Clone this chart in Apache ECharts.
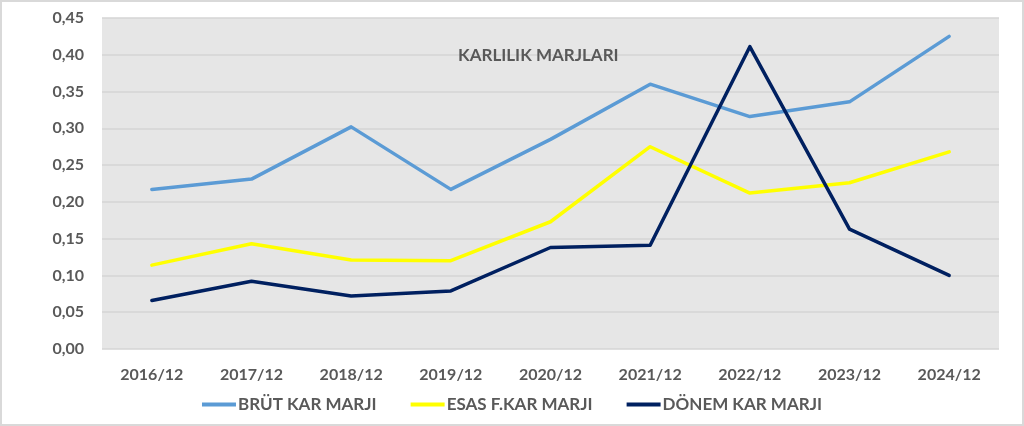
<!DOCTYPE html>
<html><head><meta charset="utf-8">
<script src="https://cdn.jsdelivr.net/npm/echarts@6/dist/echarts.min.js"></script>
<style>
html,body{margin:0;padding:0;background:#fff;}
#c{width:1024px;height:426px;box-sizing:border-box;border:2px solid #d9d9d9;}
</style></head>
<body><div id="c"></div>
<script>
const categories = ['2016/12','2017/12','2018/12','2019/12','2020/12','2021/12','2022/12','2023/12','2024/12'];
const brut  = [0.217,0.231,0.302,0.217,0.285,0.360,0.316,0.336,0.425];
const esas  = [0.114,0.143,0.121,0.120,0.173,0.275,0.212,0.226,0.268];
const donem = [0.066,0.092,0.072,0.079,0.138,0.141,0.411,0.163,0.100];
const seriesNames = ['BRÜT KAR MARJI','ESAS F.KAR MARJI','DÖNEM KAR MARJI'];
const colors = ['#5b9bd5','#ffff00','#002060'];

const chart = echarts.init(document.getElementById('c'), null, {renderer:'canvas'});
const font = 'Lato, "Open Sans", sans-serif';
const mk = (name, data, color) => ({
  name, type:'line', data, symbol:'none', smooth:false,
  lineStyle:{color, width:3.5, cap:'round', join:'round'}, itemStyle:{color}
});
chart.setOption({
  animation:false,
  textStyle:{fontFamily:font},
  title:{text:'KARLILIK MARJLARI', left:456, top:45, padding:0,
    textStyle:{fontFamily:font, fontSize:17, fontWeight:'bold', color:'#595959'}},
  grid:{left:100, right:23, top:16, bottom:75, backgroundColor:'#e6e6e6', show:true, borderWidth:0},
  legend:{data:seriesNames, left:'center', top:389, icon:'rect', itemWidth:34, itemHeight:4, itemGap:34,
    textStyle:{fontFamily:font, fontSize:17, fontWeight:'bold', color:'#595959', padding:[0,0,0,-3]}},
  xAxis:{type:'category', data:categories, boundaryGap:true,
    axisLine:{show:false}, axisTick:{show:false},
    axisLabel:{margin:18, fontFamily:font, fontSize:16, fontWeight:'bold', color:'#595959'}},
  yAxis:{type:'value', min:0, max:0.45, interval:0.05,
    axisLine:{show:false}, axisTick:{show:false},
    splitLine:{lineStyle:{color:'#d4d4d4', width:1.5}},
    axisLabel:{margin:18, fontFamily:font, fontSize:16, fontWeight:'bold', color:'#595959',
      formatter:v=>v.toFixed(2).replace('.',',')}},
  series:[mk(seriesNames[0],brut,colors[0]), mk(seriesNames[1],esas,colors[1]), mk(seriesNames[2],donem,colors[2])]
});
</script></body></html>
